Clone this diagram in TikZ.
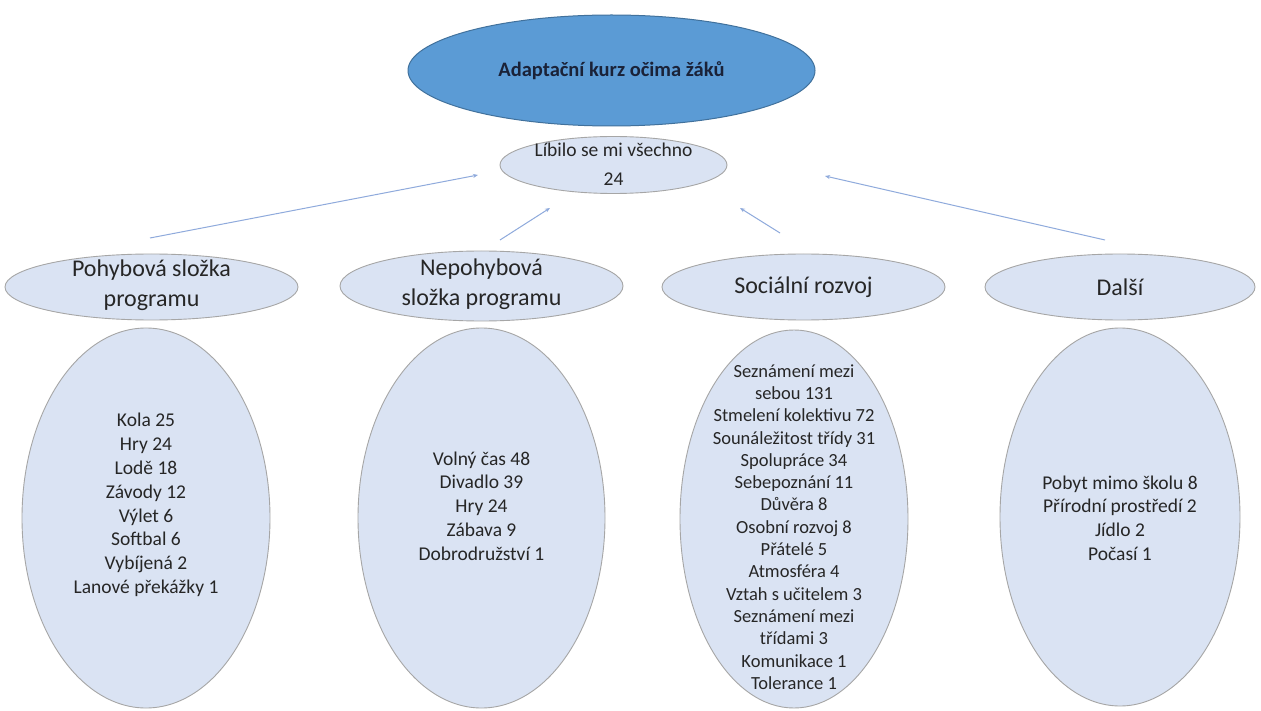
\documentclass[tikz,border=0pt]{standalone}
\usepackage{fontspec}
\setmainfont{Carlito}
\usetikzlibrary{shapes.geometric,arrows.meta}
\definecolor{topfill}{HTML}{5B9BD5}
\definecolor{topdraw}{HTML}{41719C}
\definecolor{lightfill}{HTML}{DAE3F3}
\definecolor{edgegray}{HTML}{A6A6A6}
\definecolor{arrowcol}{HTML}{8FAADC}
\definecolor{titlecol}{HTML}{1A2238}
\definecolor{txtcol}{HTML}{262626}
\begin{document}
\begin{tikzpicture}[x=1pt,y=-1pt,
  topell/.style={ellipse,draw=topdraw,fill=topfill,line width=1pt,inner sep=0pt,minimum width=#1},
  lell/.style={ellipse,draw=edgegray,fill=lightfill,line width=0.9pt,inner sep=0pt},
  txt/.style={align=center,text=txtcol,font=\fontsize{19.5}{23.8}\selectfont,inner sep=0pt},
  midtxt/.style={txt,font=\fontsize{24}{29.5}\selectfont},
  conn/.style={draw=arrowcol,line width=1pt,-{Stealth[length=5pt,width=4pt]}}
]
\useasboundingbox (0,0) rectangle (1261,711);
\fill[white] (0,0) rectangle (1261,711);

% top
\node[topell=407pt,minimum height=111pt] (top) at (611.5,70.5) {};
\node[txt,text=titlecol,font=\bfseries\fontsize{20.5}{24}\selectfont] (toptxt) at (top) {Adaptační kurz očima žáků};

\node[lell,minimum width=227pt,minimum height=57pt] (lib) at (613.5,165) {};
\node[txt,font=\fontsize{19.5}{29}\selectfont] (libtxt) at (613.5,164) {Líbilo se mi všechno\\24};

% level 2
\node[lell,minimum width=293pt,minimum height=66pt] (a) at (151.5,287) {};
\node[midtxt] (at) at (151.5,285) {Pohybová složka\\programu};
\node[lell,minimum width=283pt,minimum height=70pt] (b) at (481.5,286) {};
\node[midtxt] (bt) at (481.5,284) {Nepohybová\\složka programu};
\node[lell,minimum width=283pt,minimum height=66pt] (c) at (803.5,287) {};
\node[midtxt] (ct) at (803.5,287) {Sociální rozvoj};
\node[lell,minimum width=270pt,minimum height=66pt] (d) at (1120,287) {};
\node[midtxt] (dt) at (1120,287) {Další};

% level 3
\node[lell,minimum width=248pt,minimum height=380pt] (a3) at (146,518) {};
\node[txt] (a3t) at (146,505) {Kola 25\\Hry 24\\Lodě 18\\Závody 12\\Výlet 6\\Softbal 6\\Vybíjená 2\\Lanové překážky 1};
\node[lell,minimum width=247pt,minimum height=380pt] (b3) at (481.5,518) {};
\node[txt] (b3t) at (481.5,506) {Volný čas 48\\Divadlo 39\\Hry 24\\Zábava 9\\Dobrodružství 1};
\node[lell,minimum width=228pt,minimum height=378pt] (c3) at (794,519) {};
\node[txt,font=\fontsize{18.5}{22.3}\selectfont] (c3t) at (794,527) {Seznámení mezi\\sebou 131\\Stmelení kolektivu 72\\Sounáležitost třídy 31\\Spolupráce 34\\Sebepoznání 11\\Důvěra 8\\Osobní rozvoj 8\\Přátelé 5\\Atmosféra 4\\Vztah s učitelem 3\\Seznámení mezi\\třídami 3\\Komunikace 1\\Tolerance 1};
\node[lell,minimum width=240pt,minimum height=378pt] (d3) at (1120,517) {};
\node[txt] (d3t) at (1120,518) {Pobyt mimo školu 8\\Přírodní prostředí 2\\Jídlo 2\\Počasí 1};

% connectors
\coordinate (a1) at (150,238); \coordinate (a2) at (478,175);
\coordinate (b1) at (500,240); \coordinate (b2) at (550,208);
\coordinate (c1) at (780,233); \coordinate (c2) at (740,208);
\coordinate (d1) at (1105,240); \coordinate (d2) at (825,176);
\draw[conn] (a1) -- (a2);
\draw[conn] (b1) -- (b2);
\draw[conn] (c1) -- (c2);
\draw[conn] (d1) -- (d2);
\end{tikzpicture}
\end{document}
